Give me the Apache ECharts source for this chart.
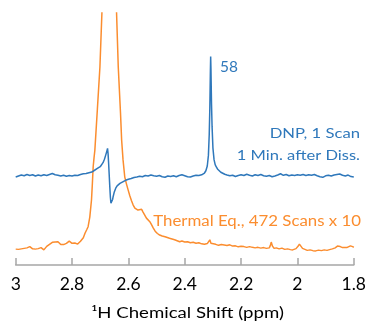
<!DOCTYPE html>
<html><head><meta charset="utf-8">
<script src="https://cdn.jsdelivr.net/npm/echarts@6/dist/echarts.min.js"></script>
<style>html,body{margin:0;padding:0;background:#fff}#c{width:369px;height:321px}</style>
</head><body><div id="c"></div>
<script>
// x-axis ticks (ppm)
var xTicks = [3, 2.8, 2.6, 2.4, 2.2, 2, 1.8];
var xTitle = "\u00b9H Chemical Shift (ppm)";
var dnpLabel1 = "DNP, 1 Scan";
var dnpLabel2 = "1 Min. after Diss.";
var thermalLabel = "Thermal Eq., 472 Scans x 10";
var peakLabel = "58";

// DNP spectrum [ppm, intensity (a.u., offset)]
var dnp = [[3.00,34.9],[2.99,35.3],[2.98,35.7],[2.97,35.4],[2.96,35.9],[2.95,35.5],[2.94,35.8],[2.93,35.3],[2.92,35.7],[2.91,35.4],[2.90,35.8],[2.89,35.5],[2.88,35.9],[2.87,36.3],[2.86,35.8],[2.85,35.6],[2.84,35.3],[2.83,35.6],[2.82,35.2],[2.81,35.5],[2.80,35.3],[2.79,35.6],[2.78,35.5],[2.77,35.9],[2.76,36.2],[2.75,36.3],[2.74,36.6],[2.73,36.9],[2.72,37.6],[2.71,38.3],[2.70,39.0],[2.695,39.7],[2.69,40.6],[2.685,42.0],[2.68,43.8],[2.676,45.4],[2.674,46.3],[2.672,44.0],[2.670,40.0],[2.668,35.5],[2.666,31.0],[2.664,27.0],[2.662,24.5],[2.660,23.8],[2.658,24.6],[2.656,26.0],[2.654,27.2],[2.650,29.0],[2.645,30.5],[2.640,31.4],[2.635,32.0],[2.630,32.4],[2.62,33.0],[2.61,33.6],[2.60,34.0],[2.59,34.3],[2.58,34.7],[2.57,34.9],[2.56,35.2],[2.55,35.0],[2.54,35.5],[2.53,35.3],[2.52,35.7],[2.51,35.4],[2.50,35.2],[2.49,35.5],[2.48,35.0],[2.47,34.8],[2.46,35.3],[2.45,35.1],[2.44,35.4],[2.43,35.0],[2.42,35.5],[2.41,35.8],[2.40,35.4],[2.39,35.0],[2.38,34.9],[2.37,35.3],[2.36,35.6],[2.35,35.5],[2.345,35.7],[2.340,35.8],[2.335,36.0],[2.330,36.5],[2.325,37.4],[2.320,39.3],[2.316,43.5],[2.313,52.0],[2.311,62.0],[2.309,77.0],[2.308,82.7],[2.307,78.0],[2.305,64.0],[2.303,55.0],[2.300,46.5],[2.296,41.8],[2.292,39.8],[2.288,38.9],[2.283,38.0],[2.278,37.4],[2.272,36.8],[2.265,36.4],[2.258,36.0],[2.25,35.7],[2.24,35.4],[2.23,35.6],[2.22,35.1],[2.21,35.5],[2.20,35.8],[2.19,35.5],[2.18,36.0],[2.17,35.6],[2.16,35.3],[2.15,35.8],[2.14,35.5],[2.13,35.9],[2.12,35.4],[2.11,35.2],[2.10,35.5],[2.09,35.0],[2.08,35.3],[2.07,35.7],[2.06,36.2],[2.05,35.6],[2.04,35.9],[2.03,35.4],[2.02,35.7],[2.01,35.5],[2.00,35.8],[1.99,35.6],[1.98,35.9],[1.97,35.5],[1.96,35.8],[1.95,35.6],[1.94,35.9],[1.93,35.4],[1.92,35.0],[1.91,34.8],[1.90,35.4],[1.89,35.6],[1.88,35.3],[1.87,35.7],[1.86,35.9],[1.85,36.1],[1.84,35.6],[1.83,35.3],[1.82,35.7],[1.81,35.1],[1.80,34.9]];

// Thermal equilibrium spectrum [ppm, intensity (a.u.)]
var thermal = [[3.00,6.3],[2.995,6.0],[2.99,6.2],[2.985,5.9],[2.98,6.4],[2.975,6.2],[2.97,6.6],[2.96,6.8],[2.955,7.0],[2.95,7.3],[2.945,6.9],[2.94,6.4],[2.935,6.1],[2.93,6.3],[2.925,6.8],[2.92,6.5],[2.915,6.6],[2.91,6.9],[2.905,6.3],[2.90,6.0],[2.895,6.6],[2.89,7.4],[2.885,7.9],[2.88,8.2],[2.875,8.6],[2.87,9.0],[2.865,8.8],[2.86,9.1],[2.855,9.3],[2.85,9.2],[2.845,8.6],[2.84,8.1],[2.835,7.9],[2.83,8.1],[2.825,8.2],[2.82,8.6],[2.815,9.0],[2.81,9.5],[2.805,9.2],[2.80,8.6],[2.795,8.5],[2.79,8.7],[2.785,8.4],[2.78,8.3],[2.775,8.6],[2.77,9.4],[2.766,9.9],[2.76,10.8],[2.754,12.6],[2.748,14.0],[2.743,15.2],[2.737,19.0],[2.731,25.8],[2.728,32.0],[2.725,39.0],[2.722,42.5],[2.719,45.6],[2.71,62],[2.701,78.7],[2.694,100],[2.685,140],[2.668,180],[2.652,140],[2.642,100],[2.636,78.7],[2.628,60.3],[2.624,49.6],[2.619,41.7],[2.613,35.0],[2.607,32.2],[2.601,29.8],[2.595,27.5],[2.589,25.5],[2.583,23.8],[2.577,22.6],[2.572,22.0],[2.566,21.8],[2.560,22.3],[2.553,22.1],[2.548,21.0],[2.542,19.8],[2.536,18.6],[2.530,17.9],[2.524,17.2],[2.518,16.0],[2.512,14.7],[2.505,13.4],[2.497,12.5],[2.489,11.9],[2.480,11.5],[2.470,11.2],[2.462,10.9],[2.454,10.6],[2.445,10.3],[2.436,10.0],[2.427,9.6],[2.418,9.2],[2.41,9.5],[2.40,9.1],[2.39,9.2],[2.38,8.8],[2.37,9.0],[2.36,8.6],[2.35,8.8],[2.34,8.4],[2.33,8.2],[2.32,8.5],[2.315,8.9],[2.311,10.0],[2.307,8.6],[2.30,7.9],[2.29,8.2],[2.28,7.8],[2.27,8.1],[2.26,7.9],[2.25,7.7],[2.24,8.0],[2.23,7.5],[2.22,7.6],[2.21,7.2],[2.20,7.4],[2.19,7.3],[2.18,7.0],[2.17,7.3],[2.16,7.0],[2.15,6.8],[2.14,7.0],[2.13,6.7],[2.12,6.9],[2.11,6.6],[2.10,6.8],[2.096,7.8],[2.093,9.1],[2.089,7.6],[2.083,6.6],[2.075,6.8],[2.065,6.4],[2.055,6.7],[2.045,6.2],[2.035,6.4],[2.025,6.1],[2.017,6.0],[2.005,6.5],[1.998,7.4],[1.993,8.3],[1.988,7.6],[1.982,6.6],[1.975,6.0],[1.965,5.8],[1.955,6.0],[1.945,5.7],[1.935,5.6],[1.925,5.9],[1.915,5.7],[1.905,6.0],[1.895,5.8],[1.886,6.1],[1.876,6.4],[1.866,6.8],[1.858,7.5],[1.854,7.8],[1.848,7.3],[1.840,6.9],[1.833,6.6],[1.825,6.9],[1.818,7.2],[1.812,7.6],[1.809,7.8],[1.804,7.3],[1.80,7.0]];

var BLUE = '#2f78bb', ORANGE = '#fb8d2f', FONT = 'Lato';
var chart = echarts.init(document.getElementById('c'), null, {renderer: 'canvas'});
chart.setOption({
  animation: false,
  backgroundColor: '#fff',
  grid: {left: 15.7, right: 14.7, top: 13, bottom: 56, containLabel: false},
  xAxis: {
    type: 'value', min: 1.8, max: 3, interval: 0.2, inverse: true,
    axisLine: {show: true, lineStyle: {color: '#a6a6a6', width: 1.5}},
    axisTick: {show: true, inside: true, length: 7, lineStyle: {color: '#a6a6a6', width: 1.5}},
    splitLine: {show: false},
    axisLabel: {
      color: '#000', fontSize: 17.5, fontFamily: FONT, margin: 10,
      formatter: function (v) {
        var best = xTicks.reduce(function (a, b) { return Math.abs(b - v) < Math.abs(a - v) ? b : a; });
        return String(best);
      }
    }
  },
  yAxis: {type: 'value', min: 0, max: 100, show: false},
  series: [
    {type: 'line', data: thermal, showSymbol: false, clip: true,
     lineStyle: {color: ORANGE, width: 1.5}, itemStyle: {color: ORANGE}, z: 2},
    {type: 'line', data: dnp, showSymbol: false, clip: true,
     lineStyle: {color: BLUE, width: 1.5}, itemStyle: {color: BLUE}, z: 3}
  ],
  graphic: [
    {type: 'text', x: 220, y: 67.5, scaleX: 1.03, style: {text: peakLabel, fill: BLUE, font: '15px ' + FONT, textAlign: 'left', textVerticalAlign: 'middle'}},
    {type: 'text', x: 360, y: 133, scaleX: 1.19, style: {text: dnpLabel1, fill: BLUE, font: '14px ' + FONT, textAlign: 'right', textVerticalAlign: 'middle'}},
    {type: 'text', x: 360, y: 155, scaleX: 1.18, style: {text: dnpLabel2, fill: BLUE, font: '14px ' + FONT, textAlign: 'right', textVerticalAlign: 'middle'}},
    {type: 'text', x: 361, y: 221, scaleX: 1.16, style: {text: thermalLabel, fill: ORANGE, font: '14.5px ' + FONT, textAlign: 'right', textVerticalAlign: 'middle'}},
    {type: 'text', x: 187.5, y: 313, scaleX: 1.2, style: {text: xTitle, fill: '#000', font: '15.5px ' + FONT, textAlign: 'center', textVerticalAlign: 'middle'}}
  ]
});
</script></body></html>
